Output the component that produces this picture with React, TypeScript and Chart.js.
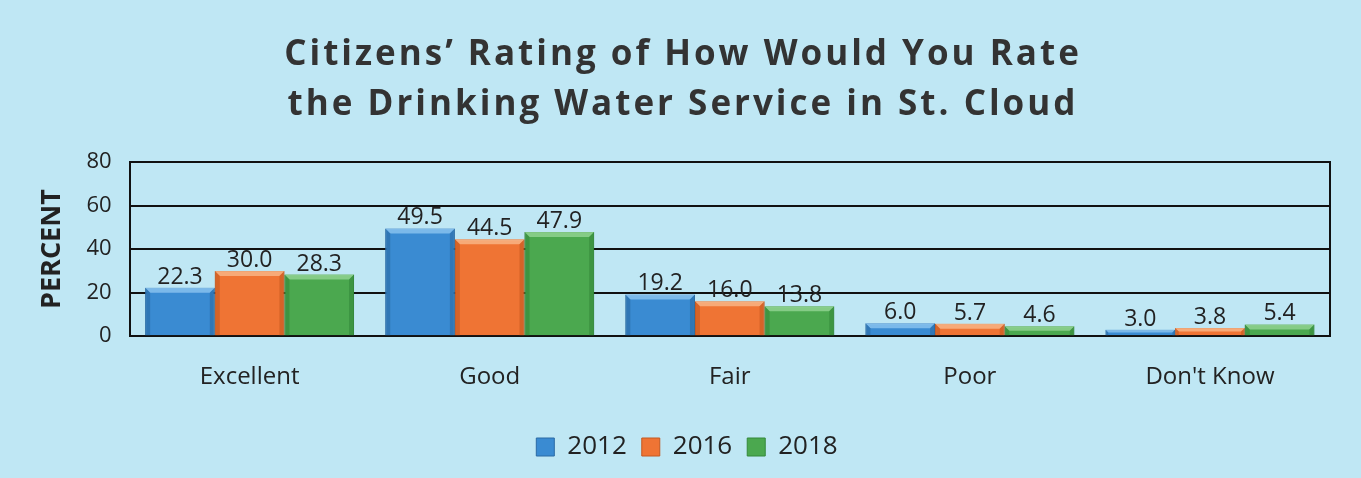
import React, { useEffect, useRef } from "react";
import { Chart, registerables } from "chart.js";

Chart.register(...registerables);

const categories = ["Excellent", "Good", "Fair", "Poor", "Don't Know"];
const seriesNames = ["2012", "2016", "2018"];
const values2012 = [22.3, 49.5, 19.2, 6.0, 3.0];
const values2016 = [30.0, 44.5, 16.0, 5.7, 3.8];
const values2018 = [28.3, 47.9, 13.8, 4.6, 5.4];
const yTicks = [0, 20, 40, 60, 80];
const titleLines = ["Citizens’ Rating of How Would You Rate", "the Drinking Water Service in St. Cloud"];

const colors = ["#3a8bd2", "#ef7434", "#4ba84f"];
const borders = ["#2a6aa4", "#c45820", "#34883a"];
const highlights = ["#8cc4f0", "#f9b88a", "#93d494"];

const FONT = "'Open Sans', sans-serif";

const spacedTitle = {
  id: "spacedTitle",
  afterDraw(chart: any) {
    const ctx = chart.ctx;
    ctx.save();
    ctx.font = `bold 35px ${FONT}`;
    ctx.fillStyle = "#333";
    ctx.textAlign = "left";
    ctx.textBaseline = "middle";
    (ctx as any).letterSpacing = "3px";
    const cx = chart.width / 2 + 1;
    titleLines.forEach((line, k) => {
      const w = ctx.measureText(line).width - 3;
      ctx.fillText(line, cx - w / 2, 55 + k * 50);
    });
    ctx.restore();
  },
};

const bevel = {
  id: "bevel",
  afterDatasetsDraw(chart: any) {
    const ctx = chart.ctx;
    ctx.save();
    chart.data.datasets.forEach((ds: any, i: number) => {
      const meta = chart.getDatasetMeta(i);
      meta.data.forEach((bar: any) => {
        const l = bar.x - bar.width / 2;
        const r = bar.x + bar.width / 2;
        const t = bar.y;
        const b = bar.base;
        const h = b - t;
        const e = Math.min(5, h / 2);
        ctx.fillStyle = highlights[i];
        ctx.globalAlpha = 0.8;
        ctx.beginPath();
        ctx.moveTo(l, t);
        ctx.lineTo(r, t);
        ctx.lineTo(r - e, t + e);
        ctx.lineTo(l + e, t + e);
        ctx.closePath();
        ctx.fill();
        ctx.fillStyle = borders[i];
        ctx.globalAlpha = 0.6;
        ctx.beginPath();
        ctx.moveTo(l, t);
        ctx.lineTo(l + e, t + e);
        ctx.lineTo(l + e, b);
        ctx.lineTo(l, b);
        ctx.closePath();
        ctx.fill();
        ctx.beginPath();
        ctx.moveTo(r, t);
        ctx.lineTo(r - e, t + e);
        ctx.lineTo(r - e, b);
        ctx.lineTo(r, b);
        ctx.closePath();
        ctx.fill();
      });
    });
    ctx.restore();
  },
};

const valueLabels = {
  id: "valueLabels",
  afterDatasetsDraw(chart: any) {
    const ctx = chart.ctx;
    ctx.save();
    ctx.font = `23px ${FONT}`;
    ctx.fillStyle = "#222";
    ctx.textAlign = "center";
    ctx.textBaseline = "bottom";
    chart.data.datasets.forEach((ds: any, i: number) => {
      const meta = chart.getDatasetMeta(i);
      meta.data.forEach((bar: any, j: number) => {
        ctx.fillText(Number(ds.data[j]).toFixed(1), bar.x, bar.y + 1);
      });
    });
    ctx.restore();
  },
};

export default function App() {
  const ref = useRef<HTMLCanvasElement>(null);
  useEffect(() => {
    document.body.style.margin = "0";
    const c = ref.current!;
    const data = [values2012, values2016, values2018];
    const chart = new Chart(c, {
      type: "bar",
      data: {
        labels: categories,
        datasets: seriesNames.map((n, i) => ({
          label: n,
          data: data[i],
          backgroundColor: colors[i],
          borderColor: borders[i],
          borderWidth: 1,
          categoryPercentage: 0.87,
          barPercentage: 1,
        })),
      },
      options: {
        animation: false,
        responsive: false,
        maintainAspectRatio: false,
        layout: { padding: { left: 36, right: 23, top: 162, bottom: 8 } },
        plugins: {
          title: { display: false },
          legend: {
            position: "bottom",
            labels: {
              color: "#222",
              font: { family: FONT, size: 26 },
              boxWidth: 18,
              boxHeight: 18,
              padding: 15,
            },
          },
          tooltip: { enabled: false },
        },
        scales: {
          x: {
            grid: { display: false, drawTicks: false },
            border: { color: "#111", width: 2 },
            ticks: { color: "#222", font: { family: FONT, size: 24 }, padding: 27 },
          },
          y: {
            min: 0,
            max: 80,
            afterBuildTicks: (axis: any) => {
              axis.ticks = yTicks.map((v) => ({ value: v }));
            },
            grid: { color: "#111", lineWidth: 2, drawTicks: false },
            border: { display: true, color: "#111", width: 2 },
            ticks: { color: "#222", font: { family: FONT, size: 22 }, padding: 18 },
            title: {
              display: true,
              text: "PERCENT",
              color: "#222",
              font: { family: FONT, size: 27, weight: "bold" },
              padding: 0,
            },
          },
          y2: {
            position: "right",
            min: 0,
            max: 80,
            grid: { display: false },
            border: { display: true, color: "#111", width: 2 },
            ticks: { display: false },
          },
        },
      },
      plugins: [bevel, valueLabels, spacedTitle],
    });
    return () => chart.destroy();
  }, []);
  return (
    <div style={{ width: 1361, height: 478, background: "#bfe7f4" }}>
      <canvas ref={ref} width={1361} height={478} style={{ display: "block" }} />
    </div>
  );
}
